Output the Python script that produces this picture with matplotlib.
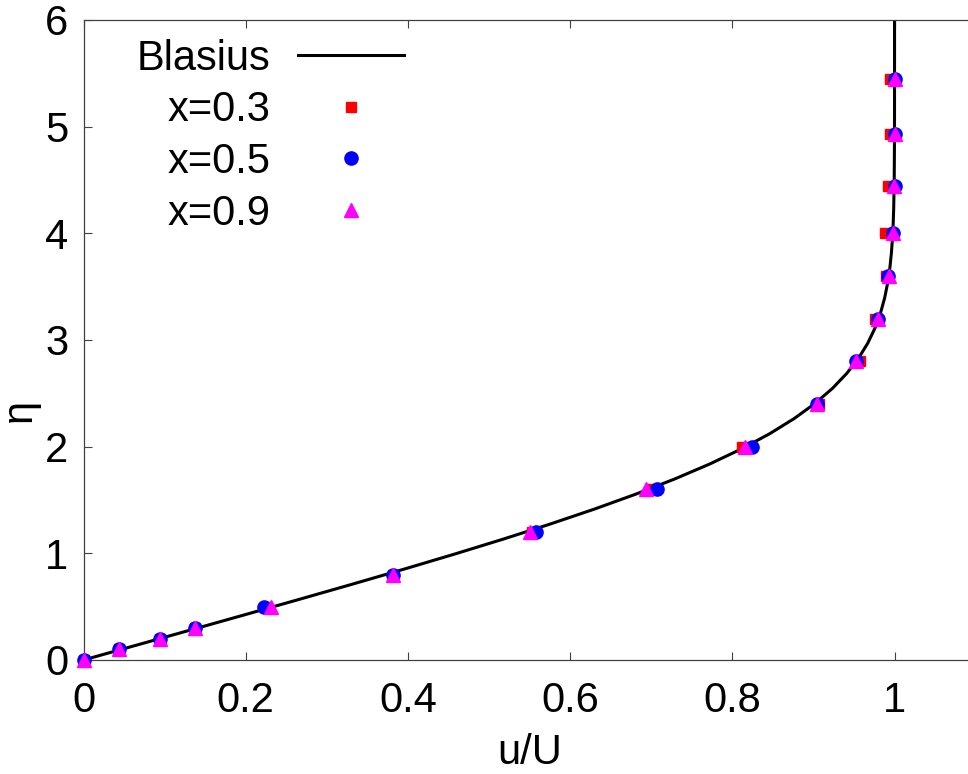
import numpy as np
import matplotlib
matplotlib.use("Agg")
import matplotlib.pyplot as plt

plt.rcParams["font.family"] = ["Liberation Sans", "DejaVu Sans"]

# Blasius similarity solution f'(eta_std), eta_std = y*sqrt(U/(nu*x))
blasius_eta_std = [0.0, 0.2, 0.4, 0.6, 0.8, 1.0, 1.2, 1.4, 1.6, 1.8, 2.0, 2.2,
                   2.4, 2.6, 2.8, 3.0, 3.2, 3.4, 3.6, 3.8, 4.0, 4.2, 4.4, 4.6,
                   4.8, 5.0, 5.2, 5.4, 5.6, 5.8, 6.0, 6.4, 6.8, 7.2, 7.6, 8.0, 8.8]
blasius_u = [0.0, 0.06641, 0.13277, 0.19894, 0.26471, 0.32979, 0.39378, 0.45627,
             0.51676, 0.57477, 0.62977, 0.68132, 0.72899, 0.77246, 0.81152,
             0.84605, 0.87609, 0.90177, 0.92333, 0.94112, 0.95552, 0.96696,
             0.97587, 0.98269, 0.98779, 0.99155, 0.99425, 0.99616, 0.99748,
             0.99838, 0.99898, 0.99961, 0.99987, 0.99996, 0.99999, 1.0, 1.0]
# plotted eta uses y*sqrt(U/(2 nu x))
ETA_SCALE = np.sqrt(2.0)

# sampled profiles
eta_pts = [0.0, 0.1, 0.2, 0.3, 0.5, 0.8, 1.2, 1.6, 2.0, 2.4, 2.8, 3.2, 3.6,
           4.0, 4.44, 4.93, 5.45]
u_x03 = [0.0, 0.044, 0.094, 0.137, 0.225, 0.381, 0.553, 0.700, 0.812, 0.907,
         0.958, 0.976, 0.989, 0.988, 0.992, 0.994, 0.994]
u_x05 = [0.0, 0.044, 0.094, 0.137, 0.223, 0.381, 0.558, 0.707, 0.824, 0.904,
         0.953, 0.980, 0.992, 0.998, 1.0, 1.0, 1.0]
u_x09 = [0.0, 0.044, 0.094, 0.137, 0.231, 0.381, 0.550, 0.693, 0.816, 0.904,
         0.953, 0.980, 0.993, 0.998, 0.9995, 1.0, 1.0]

xticks = [0, 0.2, 0.4, 0.6, 0.8, 1.0]
xtick_labels = ["0", "0.2", "0.4", "0.6", "0.8", "1"]
yticks = [0, 1, 2, 3, 4, 5, 6]

FS = 30

fig = plt.figure(figsize=(9.68, 7.74), dpi=100)
ax = fig.add_axes([0.0863, 0.1473, 0.9216, 0.8269])

eta_curve = np.array(blasius_eta_std) / ETA_SCALE
ax.plot(blasius_u, eta_curve, color="black", lw=2.2, label="Blasius", zorder=2)
ax.plot(u_x03, eta_pts, ls="none", marker="s", ms=7, color="red",
        mec="red", label="x=0.3", zorder=3, clip_on=False)
ax.plot(u_x05, eta_pts, ls="none", marker="o", ms=9.5, color="blue",
        mec="blue", label="x=0.5", zorder=4, clip_on=False)
ax.plot(u_x09, eta_pts, ls="none", marker="^", ms=9.5, color="magenta",
        mec="magenta", label="x=0.9", zorder=5, clip_on=False)

ax.set_xlim(0, 1.1)
ax.set_ylim(0, 6)
ax.set_xticks(xticks)
ax.set_xticklabels(xtick_labels)
ax.set_yticks(yticks)
ax.tick_params(direction="in", length=6, width=0.8, color="#404040",
               top=True, right=True, labelsize=FS)
ax.tick_params(axis="x", pad=15)
ax.tick_params(axis="y", pad=11)
for sp in ax.spines.values():
    sp.set_color("#404040")
    sp.set_linewidth(0.9)

ax.set_xlabel("u/U", fontsize=FS, labelpad=9)
ax.set_ylabel("η", fontsize=FS)
ax.yaxis.set_label_coords(-0.049, 0.39)

leg = ax.legend(loc="upper right", bbox_to_anchor=(0.359, 0.971),
                frameon=False, fontsize=FS, markerfirst=False,
                handlelength=2.54, handletextpad=0.67, labelspacing=0.28,
                borderaxespad=0, borderpad=0, numpoints=1)

fig.savefig("out.png", dpi=100)
